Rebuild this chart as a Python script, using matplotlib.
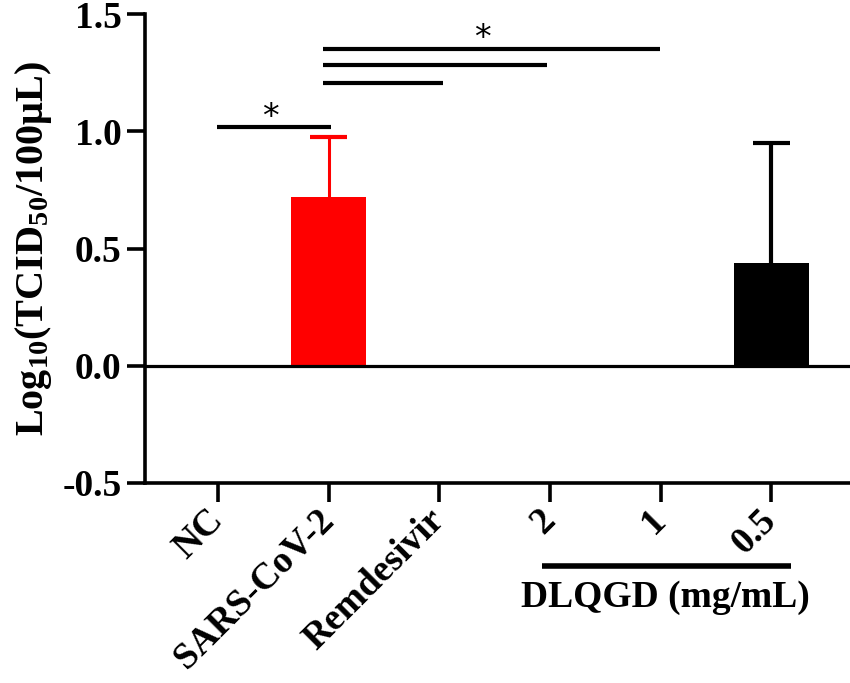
import numpy as np
import matplotlib
matplotlib.use('Agg')
import matplotlib.pyplot as plt

plt.rcParams['font.family'] = ['Liberation Serif', 'DejaVu Serif']
plt.rcParams['font.weight'] = 'bold'
plt.rcParams['mathtext.fontset'] = 'custom'
plt.rcParams['mathtext.rm'] = 'Liberation Serif:bold'
plt.rcParams['mathtext.it'] = 'Liberation Serif:bold'
plt.rcParams['mathtext.bf'] = 'Liberation Serif:bold'

# dados
grupos = ['NC', 'SARS-CoV-2', 'Remdesivir', '2', '1', '0.5']
medias = [0.0, 0.72, 0.0, 0.0, 0.0, 0.44]
erros = [0.0, 0.255, 0.0, 0.0, 0.0, 0.51]
cores = ['black', 'red', 'black', 'black', 'black', 'black']

# comparações significativas: (inicio, fim, altura)
comparacoes = [(-0.01, 1.02, 1.02), (0.95, 2.03, 1.205), (0.95, 2.97, 1.282), (0.95, 3.99, 1.35)]
asteriscos = [(0.47, 0.99), (2.39, 1.325)]

fig = plt.figure(figsize=(8.5, 6.83), dpi=100)
ax = fig.add_axes([145 / 850, 200 / 683, 705 / 850, 469 / 683])

x = np.arange(len(grupos))
cap = 0.165
for i in range(len(grupos)):
    if medias[i] > 0:
        ax.bar(x[i], medias[i], width=0.68, color=cores[i], zorder=2)
        lw = 2.2 if cores[i] == 'red' else 3.0
        topo = medias[i] + erros[i]
        # só a metade de cima do erro
        ax.vlines(x[i], medias[i], topo, color=cores[i], linewidth=lw, zorder=3)
        ax.hlines(topo, x[i] - cap, x[i] + cap, color=cores[i], linewidth=3.0, zorder=3)

ax.axhline(0, color='black', linewidth=2.3, zorder=4)

for ini, fim, alt in comparacoes:
    ax.plot([ini, fim], [alt, alt], color='black', linewidth=3.0, solid_capstyle='butt')
for xa, ya in asteriscos:
    ax.text(xa, ya, '*', fontsize=24, ha='center', va='bottom', family='DejaVu Sans', weight='normal')

ax.set_xlim(-0.66, 5.71)
ax.set_ylim(-0.5, 1.5)
ax.set_yticks([-0.5, 0.0, 0.5, 1.0, 1.5])
ax.set_yticklabels(['-0.5', '0.0', '0.5', '1.0', '1.5'])
ax.set_xticks(x)
ax.set_xticklabels(grupos, rotation=45, ha='right', va='center', rotation_mode='anchor')

for lado in ['top', 'right']:
    ax.spines[lado].set_visible(False)
for lado in ['left', 'bottom']:
    ax.spines[lado].set_linewidth(2.6)

ax.tick_params(axis='y', length=13, width=2.6, labelsize=27, pad=4)
ax.tick_params(axis='x', length=14, width=2.6, labelsize=27, pad=9)

ax.set_ylabel('Log$_{10}$(TCID$_{50}$/100μL)', fontsize=29, fontweight='bold', labelpad=6)

# barra do DLQGD
ax.plot([2.93, 5.18], [-0.855, -0.855], color='black', linewidth=4, clip_on=False,
        solid_capstyle='butt')
ax.text(4.04, -0.99, 'DLQGD (mg/mL)', fontsize=27, ha='center', va='center', clip_on=False)

fig.savefig('out.png', dpi=100)
